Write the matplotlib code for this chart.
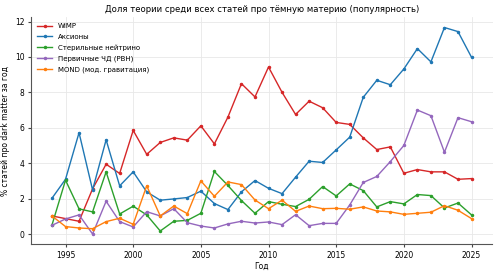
import matplotlib
matplotlib.use("Agg")
import matplotlib.pyplot as plt

years = list(range(1994, 2026))

wimp = [1.02, 0.87, 0.72, 2.55, 3.94, 3.42, 5.85, 4.50, 5.17, 5.43, 5.30, 6.11, 5.09, 6.60, 8.49, 7.74,
        9.43, 8.00, 6.75, 7.50, 7.13, 6.30, 6.19, 5.43, 4.77, 4.92, 3.43, 3.64, 3.51, 3.51, 3.09, 3.13]
axions = [2.02, 3.09, 5.72, 2.49, 5.32, 2.72, 3.51, 2.38, 1.91, 1.98, 2.06, 2.42, 1.72, 1.38, 2.38, 3.02,
          2.58, 2.28, 3.21, 4.11, 4.04, 4.75, 5.47, 7.72, 8.68, 8.43, 9.32, 10.47, 9.72, 11.66, 11.43, 9.98]
sterile = [0.51, 3.04, 1.42, 1.25, 3.51, 1.13, 1.57, 1.08, 0.17, 0.72, 0.77, 1.17, 3.53, 2.74, 1.89, 1.17,
           1.83, 1.68, 1.55, 1.96, 2.68, 2.15, 2.83, 2.45, 1.53, 1.83, 1.70, 2.23, 2.17, 1.47, 1.75, 1.08]
pbh = [0.49, 0.85, 1.08, 0.00, 1.85, 0.70, 0.40, 1.26, 1.02, 1.43, 0.64, 0.45, 0.34, 0.57, 0.72, 0.62,
       0.68, 0.53, 1.09, 0.47, 0.60, 0.60, 1.64, 2.91, 3.25, 4.09, 5.00, 7.00, 6.68, 4.62, 6.57, 6.34]
mond = [1.02, 0.42, 0.34, 0.30, 0.70, 0.89, 0.55, 2.72, 1.02, 1.58, 1.15, 3.00, 2.13, 2.94, 2.79, 1.92,
        1.43, 1.91, 1.28, 1.58, 1.43, 1.45, 1.40, 1.53, 1.30, 1.25, 1.11, 1.17, 1.23, 1.60, 1.34, 0.87]

labels = ["WIMP", "Аксионы", "Стерильные нейтрино", "Первичные ЧД (PBH)", "MOND (мод. гравитация)"]
colors = ["#d62728", "#1f77b4", "#2ca02c", "#9467bd", "#ff7f0e"]
series = [wimp, axions, sterile, pbh, mond]

fig = plt.figure(figsize=(5.0, 2.73), dpi=100)
ax = fig.add_axes([0.062, 0.105, 0.923, 0.832])

for vals, lab, col in zip(series, labels, colors):
    ax.plot(years, vals, color=col, lw=1.0, marker="o", markersize=1.5, label=lab)

ax.set_title("Доля теории среди всех статей про тёмную материю (популярность)", fontsize=6.1, pad=4)
ax.set_xlabel("Год", fontsize=5.5, labelpad=2)
ax.set_ylabel("% статей про dark matter за год", fontsize=5.5, labelpad=4)
ax.tick_params(labelsize=5.5, length=2.5, pad=2, color="#444444")
ax.set_xticks([1995, 2000, 2005, 2010, 2015, 2020, 2025])
ax.set_yticks([0, 2, 4, 6, 8, 10, 12])
ax.grid(True, color="#e8e8e8", lw=0.6)
ax.set_axisbelow(True)
for s in ["top", "right"]:
    ax.spines[s].set_visible(False)
for s in ["left", "bottom"]:
    ax.spines[s].set_color("#555555")
ax.legend(loc="upper left", fontsize=5, frameon=False, handlelength=2.2, labelspacing=0.65,
          borderaxespad=0.45, handletextpad=0.8)

fig.savefig("out.png", dpi=100)
